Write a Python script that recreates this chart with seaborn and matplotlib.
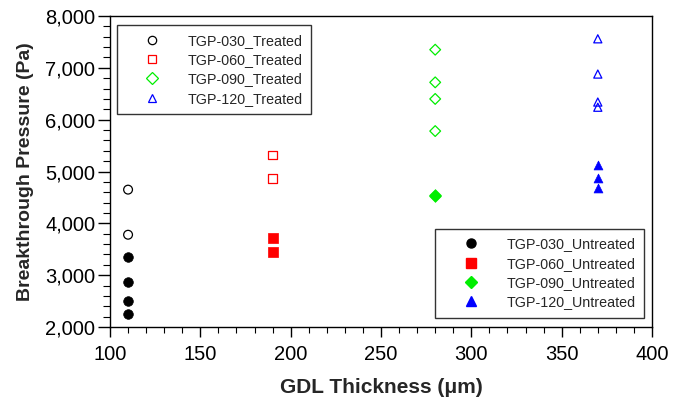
import matplotlib
matplotlib.use("Agg")
import matplotlib.pyplot as plt
import matplotlib.ticker as mticker
from matplotlib.lines import Line2D
import seaborn as sns
import pandas as pd

# Data
thickness = [110, 190, 280, 370]
labels = ["TGP-030", "TGP-060", "TGP-090", "TGP-120"]
treated_030 = [4650, 3780]
treated_060 = [5320, 4870]
treated_090 = [7350, 6720, 6400, 5780]
treated_120 = [7560, 6880, 6340, 6240]
untreated_030 = [3350, 2860, 2500, 2245]
untreated_060 = [3720, 3440]
untreated_090 = [4525, 4540]
untreated_120 = [5130, 4870, 4680]

colors = ["black", "red", "#00ee00", "blue"]
markers = ["o", "s", "D", "^"]
msizes = [40, 38, 30, 34]

sns.set_theme(style="white")
plt.rcParams['font.family'] = ['Liberation Sans', 'DejaVu Sans']

fig = plt.figure(figsize=(6.83, 4.0), dpi=100)
ax = fig.add_axes([110/683, 1 - 327/400, (652-110)/683, (327-16)/400])

treated = [treated_030, treated_060, treated_090, treated_120]
untreated = [untreated_030, untreated_060, untreated_090, untreated_120]

for i in range(4):
    df = pd.DataFrame({"x": [thickness[i]] * len(treated[i]), "y": treated[i]})
    sns.scatterplot(data=df, x="x", y="y", ax=ax, marker=markers[i], s=msizes[i],
                    facecolors="none", edgecolor=colors[i], linewidth=0.9, legend=False)
    df2 = pd.DataFrame({"x": [thickness[i]] * len(untreated[i]), "y": untreated[i]})
    sns.scatterplot(data=df2, x="x", y="y", ax=ax, marker=markers[i], s=msizes[i] * 1.2,
                    color=colors[i], edgecolor=colors[i], linewidth=0.5, legend=False)

ax.set_xlim(100, 400)
ax.set_ylim(2000, 8000)
ax.xaxis.set_major_locator(mticker.MultipleLocator(50))
ax.xaxis.set_minor_locator(mticker.MultipleLocator(10))
ax.yaxis.set_major_locator(mticker.MultipleLocator(1000))
ax.yaxis.set_minor_locator(mticker.MultipleLocator(200))
ax.yaxis.set_major_formatter(mticker.FuncFormatter(lambda v, p: f"{int(v):,}"))
ax.tick_params(axis="x", which="major", direction="out", length=7, width=1, colors="black",
               labelsize=14.5, bottom=True, pad=6)
ax.tick_params(axis="x", which="minor", direction="out", length=4, width=0.8, colors="black",
               bottom=True)
ax.tick_params(axis="y", which="major", direction="out", length=9, width=1, colors="black",
               labelsize=14.5, left=True, pad=1.5)
ax.tick_params(axis="y", which="minor", direction="out", length=5, width=0.8, colors="black",
               left=True)
for s in ax.spines.values():
    s.set_color("black")
    s.set_linewidth(1)

ax.set_xlabel("GDL Thickness (μm)", fontsize=15, fontweight="bold", labelpad=10)
ax.set_ylabel("Breakthrough Pressure (Pa)", fontsize=14, fontweight="bold", labelpad=8)

h1 = [Line2D([], [], linestyle="none", marker=markers[i], markersize=6,
             markerfacecolor="none", markeredgecolor=colors[i], markeredgewidth=0.9)
      for i in range(4)]
h2 = [Line2D([], [], linestyle="none", marker=markers[i], markersize=6.5,
             markerfacecolor=colors[i], markeredgecolor=colors[i])
      for i in range(4)]
common = dict(fontsize=10.3, frameon=True, fancybox=False, edgecolor="black",
              borderpad=0.6, labelspacing=0.38, handlelength=3.8, handletextpad=0.56,
              borderaxespad=0)
leg1 = ax.legend(h1, [f"{l}_Treated" for l in labels], loc="upper left",
                 bbox_to_anchor=(116.7/683, 1 - 25/400), bbox_transform=fig.transFigure,
                 **common)
leg1.get_frame().set_linewidth(1)
ax.add_artist(leg1)
leg2 = ax.legend(h2, [f"{l}_Untreated" for l in labels], loc="lower right",
                 bbox_to_anchor=(644/683, 1 - 318/400), bbox_transform=fig.transFigure,
                 **common)
leg2.get_frame().set_linewidth(1)

fig.savefig("out.png", dpi=100)
